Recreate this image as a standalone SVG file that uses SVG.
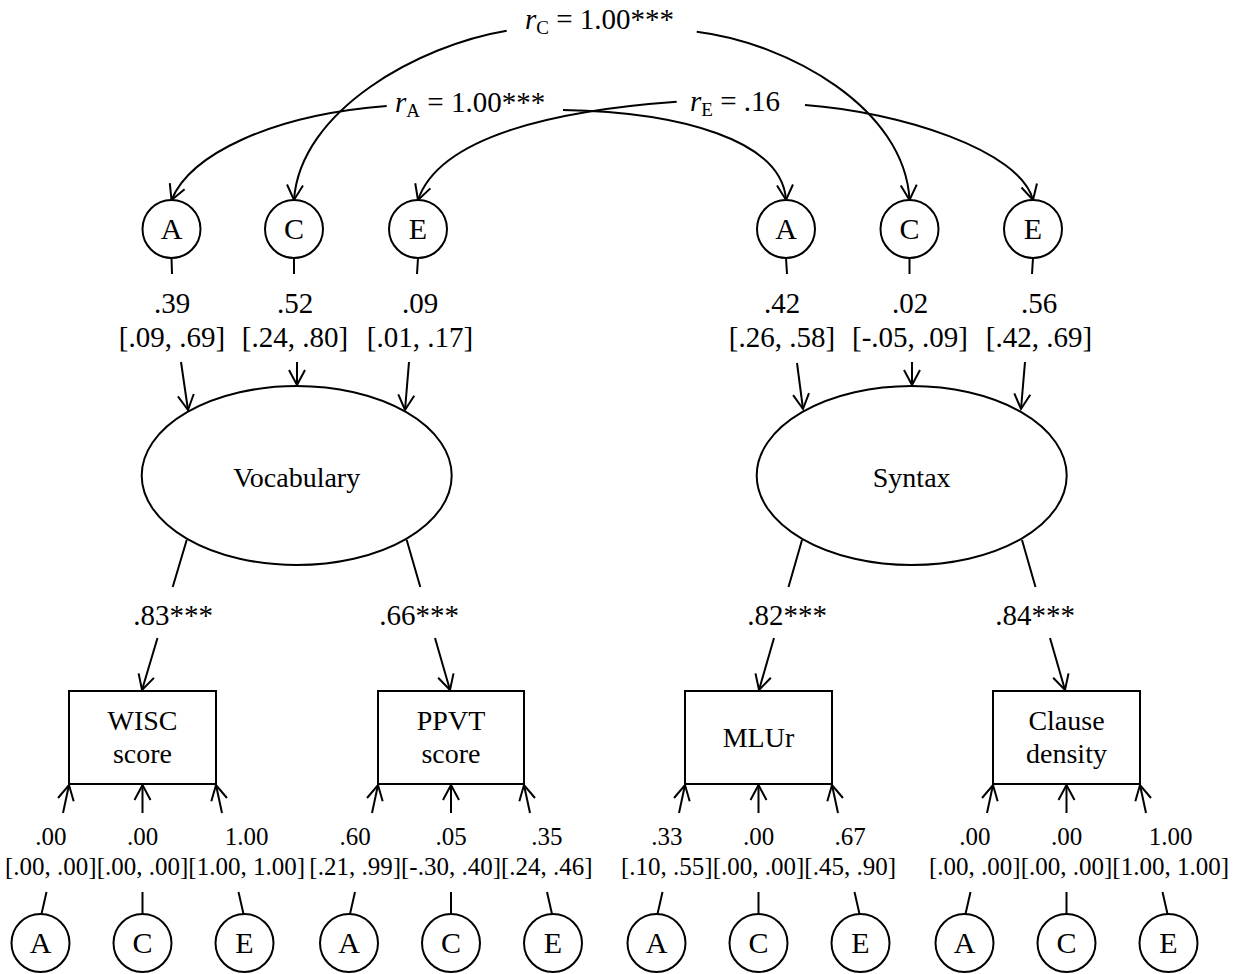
<svg xmlns="http://www.w3.org/2000/svg" width="1239" height="974" viewBox="0 0 1239 974">
<defs>
<marker id="ah" markerUnits="userSpaceOnUse" viewBox="0 0 20 20" refX="18" refY="10" markerWidth="20" markerHeight="20" orient="auto">
<path d="M3,2 L18,10 L3,18" fill="none" stroke="#000" stroke-width="2"/>
</marker>
</defs>
<style>
.ln{fill:none;stroke:#000;stroke-width:2}
.ar{marker-end:url(#ah)}
.nd{fill:#fff;stroke:#000;stroke-width:2}
.t{font-family:"Liberation Serif","Times New Roman",serif;font-size:28px;text-anchor:middle;fill:#000}
.c{font-family:"Liberation Serif","Times New Roman",serif;font-size:30px;text-anchor:middle;fill:#000}
.l{font-family:"Liberation Serif","Times New Roman",serif;font-size:29px;text-anchor:middle;fill:#000}
.b{font-family:"Liberation Serif","Times New Roman",serif;font-size:25px;text-anchor:middle;fill:#000}
.r{font-family:"Liberation Serif","Times New Roman",serif;font-size:29px;fill:#000}
.sub{font-size:19px}
</style>
<rect width="1239" height="974" fill="#fff"/>
<g id="connectors">
<path class="ln ar" d="M506.7,30.7 C420,45 300,110 294,200"/>
<path class="ln ar" d="M696.7,31.7 C788,43 905,108 909.5,200"/>
<path class="ln ar" d="M386.7,106 C270,115 190,155 171.5,200"/>
<path class="ln ar" d="M563,110 C680,112 782,140 786,200"/>
<path class="ln ar" d="M676.7,101.7 C560,110 440,135 418,200"/>
<path class="ln ar" d="M805,105 C900,112 1020,150 1033,200"/>
<path class="ln" d="M171.5,258 L172,274 M294,258 L294,274 M418,258 L417,274 M786,258 L787,274 M909.5,258 L909.5,274 M1033,258 L1032,274"/>
<path class="ln ar" d="M181,362 L188,410"/>
<path class="ln ar" d="M297,362 L297,385"/>
<path class="ln ar" d="M409,362 L405,410"/>
<path class="ln ar" d="M797,363 L803,409"/>
<path class="ln ar" d="M912,362 L912,385"/>
<path class="ln ar" d="M1025,362 L1021,409"/>
<path class="ln" d="M186.7,540 L172.7,587 M406.7,540 L420.3,587 M802,540 L788.5,587 M1022,540 L1035.5,587"/>
<path class="ln ar" d="M157.5,638 L142,690"/>
<path class="ln ar" d="M435,638 L450,690"/>
<path class="ln ar" d="M774,638 L759,690"/>
<path class="ln ar" d="M1050,638 L1065,690"/>
<path class="ln ar" d="M63,813 L69,785"/>
<path class="ln ar" d="M142.5,813 L142.5,785"/>
<path class="ln ar" d="M222,813 L216,785"/>
<path class="ln ar" d="M372,813 L378,785"/>
<path class="ln ar" d="M451,813 L451,785"/>
<path class="ln ar" d="M530,813 L524,785"/>
<path class="ln ar" d="M679,813 L685,785"/>
<path class="ln ar" d="M758.5,813 L758.5,785"/>
<path class="ln ar" d="M838,813 L832,785"/>
<path class="ln ar" d="M987,813 L993,785"/>
<path class="ln ar" d="M1066.5,813 L1066.5,785"/>
<path class="ln ar" d="M1146,813 L1140,785"/>
<path class="ln" d="M41.5,914 L46.5,892 M142.5,914 L142.5,892 M243.5,914 L238.5,892 M350,914 L355,892 M451,914 L451,892 M552,914 L547,892 M657.5,914 L662.5,892 M758.5,914 L758.5,892 M859.5,914 L854.5,892 M965.5,914 L970.5,892 M1066.5,914 L1066.5,892 M1167.5,914 L1162.5,892"/>
</g>
<g id="labels">
<text class="r" x="525" y="29"><tspan font-style="italic">r</tspan><tspan class="sub" dy="5">C</tspan><tspan dy="-5"> = 1.00***</tspan></text>
<text class="r" x="395" y="112"><tspan font-style="italic">r</tspan><tspan class="sub" dy="5">A</tspan><tspan dy="-5"> = 1.00***</tspan></text>
<text class="r" x="690" y="111"><tspan font-style="italic">r</tspan><tspan class="sub" dy="5">E</tspan><tspan dy="-5"> = .16</tspan></text>
<text class="l" x="172" y="313">.39</text><text class="l" x="172" y="347">[.09, .69]</text>
<text class="l" x="295" y="313">.52</text><text class="l" x="295" y="347">[.24, .80]</text>
<text class="l" x="420" y="313">.09</text><text class="l" x="420" y="347">[.01, .17]</text>
<text class="l" x="782" y="313">.42</text><text class="l" x="782" y="347">[.26, .58]</text>
<text class="l" x="910" y="313">.02</text><text class="l" x="910" y="347">[-.05, .09]</text>
<text class="l" x="1039" y="313">.56</text><text class="l" x="1039" y="347">[.42, .69]</text>
<text class="l" x="173" y="625">.83***</text>
<text class="l" x="419" y="625">.66***</text>
<text class="l" x="787" y="625">.82***</text>
<text class="l" x="1035" y="625">.84***</text>
<text class="b" x="50.8" y="845">.00</text><text class="b" x="50.8" y="875">[.00, .00]</text>
<text class="b" x="142.5" y="845">.00</text><text class="b" x="142.5" y="875">[.00, .00]</text>
<text class="b" x="246.7" y="845">1.00</text><text class="b" x="246.7" y="875">[1.00, 1.00]</text>
<text class="b" x="355.2" y="845">.60</text><text class="b" x="355.2" y="875">[.21, .99]</text>
<text class="b" x="451" y="845">.05</text><text class="b" x="451" y="875">[-.30, .40]</text>
<text class="b" x="546.8" y="845">.35</text><text class="b" x="546.8" y="875">[.24, .46]</text>
<text class="b" x="666.8" y="845">.33</text><text class="b" x="666.8" y="875">[.10, .55]</text>
<text class="b" x="758.5" y="845">.00</text><text class="b" x="758.5" y="875">[.00, .00]</text>
<text class="b" x="850.2" y="845">.67</text><text class="b" x="850.2" y="875">[.45, .90]</text>
<text class="b" x="974.8" y="845">.00</text><text class="b" x="974.8" y="875">[.00, .00]</text>
<text class="b" x="1066.5" y="845">.00</text><text class="b" x="1066.5" y="875">[.00, .00]</text>
<text class="b" x="1170.7" y="845">1.00</text><text class="b" x="1170.7" y="875">[1.00, 1.00]</text>
</g>
<g id="vA"><circle class="nd" cx="171.5" cy="229" r="29"/><text class="c" x="171.5" y="239">A</text></g>
<g id="vC"><circle class="nd" cx="294" cy="229" r="29"/><text class="c" x="294" y="239">C</text></g>
<g id="vE"><circle class="nd" cx="418" cy="229" r="29"/><text class="c" x="418" y="239">E</text></g>
<g id="sA"><circle class="nd" cx="786" cy="229" r="29"/><text class="c" x="786" y="239">A</text></g>
<g id="sC"><circle class="nd" cx="909.5" cy="229" r="29"/><text class="c" x="909.5" y="239">C</text></g>
<g id="sE"><circle class="nd" cx="1033" cy="229" r="29"/><text class="c" x="1033" y="239">E</text></g>
<g id="vocabulary"><ellipse class="nd" cx="296.7" cy="475.5" rx="155" ry="89.5"/><text class="t" x="296.7" y="486.5">Vocabulary</text></g>
<g id="syntax"><ellipse class="nd" cx="911.7" cy="475.5" rx="155" ry="89.5"/><text class="t" x="911.7" y="486.5">Syntax</text></g>
<g id="wisc"><rect class="nd" x="69" y="691" width="147" height="93"/><text class="t" x="142.5" y="730">WISC</text><text class="t" x="142.5" y="763">score</text></g>
<g id="ppvt"><rect class="nd" x="378" y="691" width="146" height="93"/><text class="t" x="451" y="730">PPVT</text><text class="t" x="451" y="763">score</text></g>
<g id="mlur"><rect class="nd" x="685" y="691" width="147" height="93"/><text class="t" x="758.5" y="747">MLUr</text></g>
<g id="clause"><rect class="nd" x="993" y="691" width="147" height="93"/><text class="t" x="1066.5" y="730">Clause</text><text class="t" x="1066.5" y="763">density</text></g>
<g id="wA"><circle class="nd" cx="40.5" cy="943" r="29"/><text class="c" x="40.5" y="953">A</text></g>
<g id="wC"><circle class="nd" cx="142.5" cy="943" r="29"/><text class="c" x="142.5" y="953">C</text></g>
<g id="wE"><circle class="nd" cx="244.5" cy="943" r="29"/><text class="c" x="244.5" y="953">E</text></g>
<g id="pA"><circle class="nd" cx="349" cy="943" r="29"/><text class="c" x="349" y="953">A</text></g>
<g id="pC"><circle class="nd" cx="451" cy="943" r="29"/><text class="c" x="451" y="953">C</text></g>
<g id="pE"><circle class="nd" cx="553" cy="943" r="29"/><text class="c" x="553" y="953">E</text></g>
<g id="mA"><circle class="nd" cx="656.5" cy="943" r="29"/><text class="c" x="656.5" y="953">A</text></g>
<g id="mC"><circle class="nd" cx="758.5" cy="943" r="29"/><text class="c" x="758.5" y="953">C</text></g>
<g id="mE"><circle class="nd" cx="860.5" cy="943" r="29"/><text class="c" x="860.5" y="953">E</text></g>
<g id="cA"><circle class="nd" cx="964.5" cy="943" r="29"/><text class="c" x="964.5" y="953">A</text></g>
<g id="cC"><circle class="nd" cx="1066.5" cy="943" r="29"/><text class="c" x="1066.5" y="953">C</text></g>
<g id="cE"><circle class="nd" cx="1168.5" cy="943" r="29"/><text class="c" x="1168.5" y="953">E</text></g>
</svg>
